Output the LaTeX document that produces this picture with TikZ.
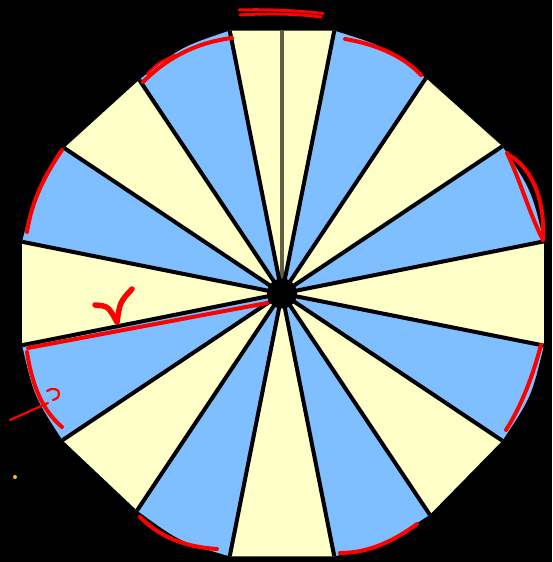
\documentclass[tikz,border=0pt]{standalone}
\usepackage{tikz}
\usetikzlibrary{calc}
\definecolor{yel}{RGB}{255,255,200}
\definecolor{blu}{RGB}{128,191,255}
\definecolor{olivegray}{RGB}{95,95,70}
\definecolor{dotorange}{RGB}{255,192,0}
\tikzset{
  spoke/.style={line width=4pt, black},
  redmark/.style={red, line width=4pt, line cap=round, line join=round},
  thinred/.style={red, line width=2.2pt, line cap=round, line join=round}
}
\begin{document}
\begin{tikzpicture}[x=1pt,y=-1pt]
\fill[black] (0,0) rectangle (552,562);
\useasboundingbox (0,0) rectangle (552,562);
\coordinate (C) at (282,293.5);
\begin{scope}[shift={(282,293.5)}]
\coordinate (v0) at (-11.25:267);
\coordinate (v1) at (-33.75:265);
\coordinate (v2) at (-56.25:259);
\coordinate (v3) at (-78.75:268);
\coordinate (v4) at (-101.25:268);
\coordinate (v5) at (-123.75:257);
\coordinate (v6) at (-146.25:262);
\coordinate (v7) at (-168.75:265);
\coordinate (v8) at (-191.25:265);
\coordinate (v9) at (-213.75:264);
\coordinate (v10) at (-236.25:261);
\coordinate (v11) at (-258.75:268);
\coordinate (v12) at (-281.25:268);
\coordinate (v13) at (-303.75:266);
\coordinate (v14) at (-326.25:265);
\coordinate (v15) at (-348.75:267);
\end{scope}
% yellow wedges (straight outer edges)
\foreach \a/\b in {15/0,1/2,3/4,5/6,7/8,9/10,11/12,13/14}
  \fill[yel] (C) -- (v\a) -- (v\b) -- cycle;
% blue wedges (slightly bulging outer edges)
\foreach \a/\b in {0/1,2/3,4/5,6/7,8/9,10/11,12/13,14/15}
  \fill[blu] (C) -- (v\a) .. controls ($(C)!1.035!($(v\a)!0.5!(v\b)$)$) .. (v\b) -- cycle;
% central line of top wedge
\coordinate (topmid) at ($(v3)!0.5!(v4)$);
\draw[olivegray, line width=4pt] (C) -- (topmid);
% spokes
\foreach \i in {0,...,15}
  \draw[spoke] (C) -- (v\i);
\fill[black] (C) circle (15);
% red annotations
\draw[thinred, line width=3pt] (239,10) .. controls (270,9) and (300,11) .. (323,13.5);
\draw[thinred, line width=3pt] (240,15) .. controls (270,13) and (300,14) .. (321,17);
\draw[redmark] (143,82) .. controls (170,55) and (200,42) .. (232,38);
\draw[thinred] (147,74) .. controls (158,63) .. (175,55);
\draw[redmark] (345,39) .. controls (380,45) and (405,58) .. (421,75);
\draw[redmark] (62,150) .. controls (45,175) and (32,200) .. (27,232);
\draw[redmark] (507,153) .. controls (520,180) and (530,215) .. (543,240);
\draw[redmark] (509,155) .. controls (535,170) and (545,205) .. (543,240);
\draw[redmark] (28,348) -- (267,303);
\draw[redmark, line width=5.5pt] (95,305) .. controls (108,306) .. (117,322);
\draw[redmark, line width=5.5pt] (132,289) .. controls (120,302) .. (117,322);
\draw[redmark] (126,296) -- (120,306);
\draw[redmark] (27,352) .. controls (32,385) and (42,410) .. (62,427);
\draw[thinred] (10,420) -- (48,403);
\draw[thinred] (47,391) .. controls (52,387) and (60,389) .. (59,394) .. controls (58,398) .. (53,400);
\draw[redmark] (140,517) .. controls (160,537) and (185,547) .. (217,549);
\draw[redmark] (340,553) .. controls (370,553) and (395,540) .. (417,524);
\draw[redmark] (541,345) .. controls (533,375) and (522,405) .. (506,430);
\fill[dotorange] (15,477) circle (2);
\end{tikzpicture}
\end{document}
